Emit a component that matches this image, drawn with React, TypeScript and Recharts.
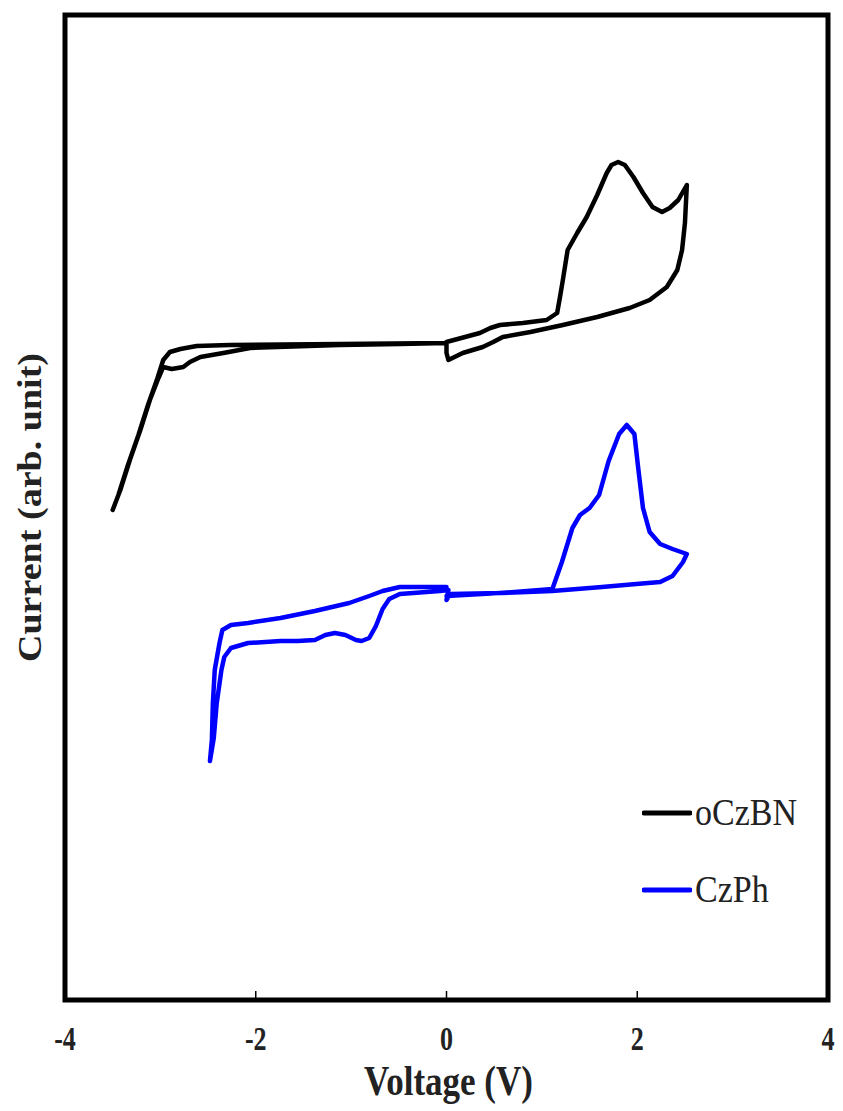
import React from "react";
import {
  LineChart,
  Line,
  XAxis,
  YAxis,
  ReferenceArea,
  ReferenceLine,
  Legend,
} from "recharts";

// Voltage (V) and current (arb. unit)
const xTicks = [-4, -2, 0, 2, 4];
const innerTicks = [-2, 0, 2];
const seriesNames = ["oCzBN", "CzPh"];

const oCzBN_V = [
  0.0, 0.35, 0.46, 0.56, 0.8, 1.05, 1.16, 1.19, 1.22, 1.27, 1.37, 1.47, 1.58, 1.68, 1.73, 1.8, 1.87, 1.96,
  2.06, 2.16, 2.26, 2.34, 2.43, 2.52,
  2.5, 2.47, 2.42, 2.31, 2.13, 1.92, 1.58, 1.22, 0.88, 0.59, 0.49, 0.38, 0.17, 0.02, 0.0, 0.0,
  -0.49, -1.12, -2.06, -2.34, -2.58, -2.69, -2.76, -2.88, -2.97, -3.02, -3.11, -3.21, -3.32, -3.42, -3.5,
  -3.44, -3.34, -3.23, -3.13, -3.03, -2.97, -2.9, -2.79, -2.62, -2.27, -1.12, 0.0,
];
const oCzBN_I = [
  65.8, 66.7, 67.2, 67.5, 67.7, 68.0, 68.7, 70.3, 72.0, 75.0, 76.7, 78.3, 80.5, 82.7, 83.5, 83.8, 83.5, 82.3,
  80.7, 79.3, 78.8, 79.2, 80.0, 81.5,
  77.7, 75.0, 73.0, 71.3, 70.0, 69.2, 68.3, 67.5, 66.8, 66.3, 65.8, 65.3, 64.7, 64.0, 64.7, 65.7,
  65.6, 65.5, 65.2, 64.7, 64.3, 63.8, 63.3, 63.1, 63.3, 62.2, 60.0, 57.0, 54.0, 51.0, 49.0,
  50.5, 53.5, 56.5, 59.5, 62.2, 64.0, 64.8, 65.1, 65.4, 65.5, 65.6, 65.7,
];

const CzPh_V = [
  0.0, 0.56, 1.11, 1.21, 1.32, 1.4, 1.5, 1.6, 1.7, 1.81, 1.89, 1.97, 2.01, 2.06, 2.13, 2.24, 2.37, 2.52,
  2.48, 2.37, 2.24, 1.99, 1.63, 1.11, 0.57, 0.04, 0.0, 0.02,
  -0.07, -0.49, -0.6, -0.67, -0.74, -0.81, -0.89, -0.95, -1.06, -1.17, -1.27, -1.38, -1.56, -1.74, -2.08,
  -2.26, -2.33, -2.36, -2.41, -2.44, -2.48,
  -2.46, -2.45, -2.43, -2.38, -2.35, -2.26, -2.08, -1.74, -1.38, -1.02, -0.81, -0.67, -0.49, 0.0,
];
const CzPh_I = [
  40.4, 40.7, 41.1, 43.8, 47.2, 48.5, 49.2, 50.5, 53.9, 56.6, 57.5, 56.6, 53.2, 49.2, 46.8, 45.6, 45.1, 44.6,
  43.8, 42.4, 41.8, 41.6, 41.3, 40.9, 40.7, 40.6, 40.0, 41.0,
  40.9, 40.6, 40.1, 39.1, 37.4, 36.2, 35.9, 36.0, 36.5, 36.7, 36.5, 36.0, 35.9, 35.9, 35.7,
  35.2, 34.3, 33.0, 29.6, 26.2, 23.9,
  26.0, 29.6, 33.0, 35.7, 37.0, 37.5, 37.7, 38.2, 38.9, 39.7, 40.4, 40.9, 41.3, 41.3,
];

const Y_MIN = 0;
const Y_MAX = 98.5;

const oCzBNData = oCzBN_V.map((v, i) => ({ v, cur: oCzBN_I[i] }));
const CzPhData = CzPh_V.map((v, i) => ({ v, cur: CzPh_I[i] }));

const SERIF = '"Liberation Serif", "Times New Roman", Times, serif';

const XTick = (props: any) => {
  const { x, y, payload } = props;
  return (
    <text
      transform={`translate(${x},${y + 50}) scale(1,1.3)`}
      x={0}
      y={0}
      textAnchor="middle"
      fontFamily={SERIF}
      fontWeight="bold"
      fontSize={26}
      fill="#222"
    >
      {payload.value}
    </text>
  );
};

const XTitle = (props: any) => {
  const vb = props.viewBox || {};
  const cx = (vb.x || 0) + (vb.width || 0) / 2 + 2;
  const base = (vb.y || 0) + 95;
  return (
    <text
      transform={`translate(${cx},${base}) scale(1,1.22)`}
      x={0}
      y={0}
      textAnchor="middle"
      fontFamily={SERIF}
      fontWeight="bold"
      fontSize={35}
      fill="#222"
    >
      {props.value}
    </text>
  );
};

const YTitle = (props: any) => {
  const vb = props.viewBox || {};
  const cx = (vb.x || 0) + (vb.width || 0) / 2 - 7;
  const cy = (vb.y || 0) + (vb.height || 0) / 2;
  return (
    <text
      transform={`translate(${cx},${cy}) scale(1,1.12) rotate(-90)`}
      textAnchor="middle"
      dominantBaseline="central"
      fontFamily={SERIF}
      fontWeight="bold"
      fontSize={34}
      fill="#222"
    >
      {props.value}
    </text>
  );
};

const LegendContent = (props: any) => {
  const items = [...(props.payload || [])].sort(
    (a: any, b: any) => seriesNames.indexOf(a.value) - seriesNames.indexOf(b.value)
  );
  return (
    <div style={{ fontFamily: SERIF, fontSize: 34, color: "#222", lineHeight: "30px" }}>
      {items.map((it: any, idx: number) => (
        <div
          key={it.value}
          style={{
            display: "flex",
            alignItems: "center",
            height: 30,
            marginTop: idx === 0 ? 0 : 47,
          }}
        >
          <svg width={50} height={8} style={{ display: "block" }}>
            <line x1={2} y1={4} x2={48} y2={4} stroke={it.color} strokeWidth={5} strokeLinecap="round" />
          </svg>
          <span style={{ marginLeft: 3, display: "inline-block", transform: "scaleY(1.12)" }}>{it.value}</span>
        </div>
      ))}
    </div>
  );
};

export default function App() {
  return (
    <LineChart
      width={835}
      height={1100}
      margin={{ top: 7, right: 15, bottom: 8, left: 0 }}
    >
      <XAxis
        type="number"
        dataKey="v"
        domain={[-4, 4]}
        ticks={xTicks}
        allowDataOverflow
        axisLine={false}
        tickLine={false}
        tickSize={0}
        tickMargin={0}
        height={100}
        tick={(p: any) => <XTick {...p} />}
        label={<XTitle value="Voltage (V)" />}
      />
      <YAxis
        type="number"
        dataKey="cur"
        domain={[Y_MIN, Y_MAX]}
        allowDataOverflow
        width={57}
        tick={false}
        axisLine={false}
        tickLine={false}
        label={<YTitle value="Current (arb. unit)" />}
      />
      <Line
        data={oCzBNData}
        dataKey="cur"
        name="oCzBN"
        type="linear"
        stroke="#000000"
        strokeWidth={4.5}
        strokeLinejoin="round"
        strokeLinecap="round"
        dot={false}
        activeDot={false}
        legendType="line"
        isAnimationActive={false}
      />
      <Line
        data={CzPhData}
        dataKey="cur"
        name="CzPh"
        type="linear"
        stroke="#0000ff"
        strokeWidth={4.5}
        strokeLinejoin="round"
        strokeLinecap="round"
        dot={false}
        activeDot={false}
        legendType="line"
        isAnimationActive={false}
      />
      {innerTicks.map((t) => (
        <ReferenceLine
          key={t}
          segment={[
            { x: t, y: Y_MIN },
            { x: t, y: Y_MIN + 0.9 },
          ]}
          stroke="#000"
          strokeWidth={1.5}
        />
      ))}
      <ReferenceArea
        x1={-4}
        x2={4}
        y1={Y_MIN}
        y2={Y_MAX}
        fill="none"
        fillOpacity={0}
        stroke="#000"
        strokeWidth={5}
      />
      <Legend
        layout="vertical"
        align="center"
        verticalAlign="middle"
        content={<LegendContent />}
        wrapperStyle={{ left: 634, top: 790, width: 200 }}
      />
    </LineChart>
  );
}
